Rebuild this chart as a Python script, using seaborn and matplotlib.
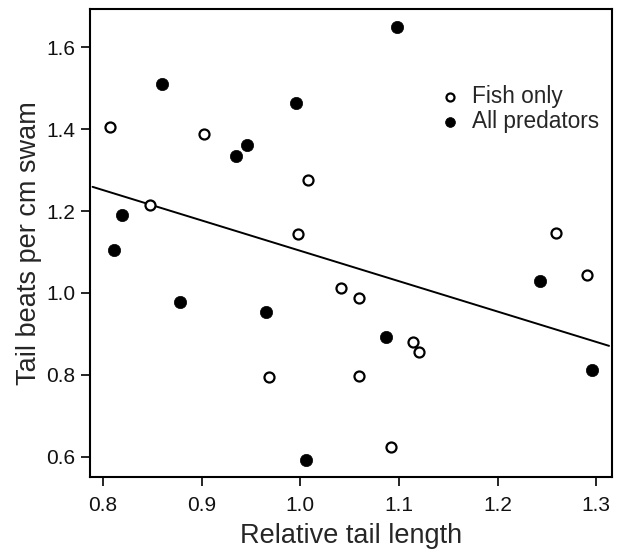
import numpy as np
import pandas as pd
import matplotlib
matplotlib.use("Agg")
import matplotlib.pyplot as plt
import seaborn as sns

# Data
fish_x = [0.807, 0.903, 1.008, 0.848, 0.998, 1.259, 0.968, 1.041, 1.060, 1.114, 1.120, 1.060, 1.092, 1.291]
fish_y = [1.406, 1.387, 1.276, 1.215, 1.143, 1.147, 0.795, 1.012, 0.987, 0.881, 0.857, 0.798, 0.623, 1.045]
pred_x = [0.860, 0.935, 0.946, 0.996, 0.819, 0.811, 1.098, 0.878, 0.965, 1.006, 1.087, 1.243, 1.296]
pred_y = [1.511, 1.335, 1.360, 1.463, 1.190, 1.105, 1.649, 0.979, 0.954, 0.593, 0.892, 1.029, 0.811]
line_x = [0.7896, 1.313]
line_y = [1.259, 0.871]
x_ticks = [0.8, 0.9, 1.0, 1.1, 1.2, 1.3]
y_ticks = [0.6, 0.8, 1.0, 1.2, 1.4, 1.6]

sns.set_style("ticks")
plt.rcParams['font.family'] = ['Liberation Sans', 'DejaVu Sans']

fig = plt.figure(figsize=(6.18, 5.52), dpi=100)
ax = fig.add_axes([90/618, 1-477/552, (612-90)/618, (477-9)/552])

fish = pd.DataFrame({"x": fish_x, "y": fish_y})
pred = pd.DataFrame({"x": pred_x, "y": pred_y})

sns.lineplot(x=line_x, y=line_y, ax=ax, color="black", linewidth=1.4)
sns.scatterplot(data=fish, x="x", y="y", ax=ax, s=52, facecolor="white",
                edgecolor="black", linewidth=1.6, label="Fish only", zorder=3)
sns.scatterplot(data=pred, x="x", y="y", ax=ax, s=78, color="black",
                edgecolor="black", linewidth=0.5, label="All predators", zorder=3)

ax.set_xlim(0.787, 1.316)
ax.set_ylim(0.551, 1.693)
ax.set_xticks(x_ticks)
ax.set_xticklabels([f"{v:.1f}" for v in x_ticks])
ax.set_yticks(y_ticks)
ax.set_yticklabels([f"{v:.1f}" for v in y_ticks])
ax.tick_params(axis="both", length=6.5, width=1.2, labelsize=15, color="black",
               labelcolor="#111111")
ax.tick_params(axis="x", pad=7)
ax.tick_params(axis="y", pad=4)
for sp in ax.spines.values():
    sp.set_visible(True)
    sp.set_color("black")
    sp.set_linewidth(1.5)

ax.set_xlabel("Relative tail length", fontsize=19.5, labelpad=6)
ax.set_ylabel("Tail beats per cm swam", fontsize=19.5, labelpad=3)

leg = ax.legend(loc="upper left", bbox_to_anchor=(0.655, 0.858), frameon=False,
                fontsize=16.3, handlelength=0.8, handletextpad=0.55,
                labelspacing=0.12, borderaxespad=0, markerscale=0.8)

fig.savefig("out.png", dpi=100)
